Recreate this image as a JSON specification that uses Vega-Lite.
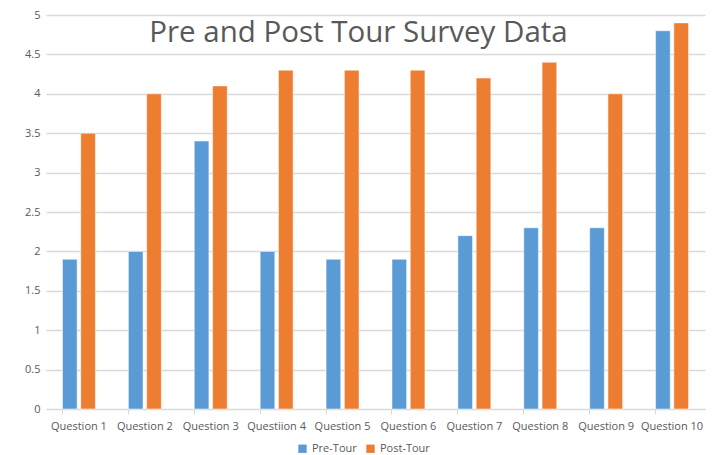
{
  "$schema": "https://vega.github.io/schema/vega-lite/v6.json",
  "width": 659,
  "height": 394,
  "autosize": "none",
  "padding": {"left": 46, "top": 15, "right": 8, "bottom": 46},
  "background": "white",
  "title": {
    "text": "Pre and Post Tour Survey Data",
    "font": "Open Sans",
    "fontSize": 29.5,
    "fontWeight": "normal",
    "color": "#595959",
    "anchor": "middle",
    "baseline": "alphabetic",
    "offset": 0,
    "dy": 62,
    "dx": -17
  },
  "config": {
    "view": {"stroke": null},
    "font": "Open Sans"
  },
  "data": {
    "values": [
      {"question": "Question 1", "series": "Pre-Tour", "value": 1.9},
      {"question": "Question 1", "series": "Post-Tour", "value": 3.5},
      {"question": "Question 2", "series": "Pre-Tour", "value": 2.0},
      {"question": "Question 2", "series": "Post-Tour", "value": 4.0},
      {"question": "Question 3", "series": "Pre-Tour", "value": 3.4},
      {"question": "Question 3", "series": "Post-Tour", "value": 4.1},
      {"question": "Questiion 4", "series": "Pre-Tour", "value": 2.0},
      {"question": "Questiion 4", "series": "Post-Tour", "value": 4.3},
      {"question": "Question 5", "series": "Pre-Tour", "value": 1.9},
      {"question": "Question 5", "series": "Post-Tour", "value": 4.3},
      {"question": "Question 6", "series": "Pre-Tour", "value": 1.9},
      {"question": "Question 6", "series": "Post-Tour", "value": 4.3},
      {"question": "Question 7", "series": "Pre-Tour", "value": 2.2},
      {"question": "Question 7", "series": "Post-Tour", "value": 4.2},
      {"question": "Question 8", "series": "Pre-Tour", "value": 2.3},
      {"question": "Question 8", "series": "Post-Tour", "value": 4.4},
      {"question": "Question 9", "series": "Pre-Tour", "value": 2.3},
      {"question": "Question 9", "series": "Post-Tour", "value": 4.0},
      {"question": "Question 10", "series": "Pre-Tour", "value": 4.8},
      {"question": "Question 10", "series": "Post-Tour", "value": 4.9}
    ]
  },
  "mark": {"type": "bar", "stroke": "white", "strokeWidth": 0.5},
  "encoding": {
    "x": {
      "field": "question",
      "type": "nominal",
      "sort": null,
      "scale": {"paddingInner": 0.5, "paddingOuter": 0.25},
      "axis": {
        "title": null,
        "labelAngle": 0,
        "labelFont": "Open Sans",
        "labelFontSize": 11,
        "labelColor": "#595959",
        "labelPadding": 6,
        "domainColor": "#D9D9D9",
        "tickColor": "#D9D9D9",
        "tickSize": 5,
        "bandPosition": 0,
        "grid": false
      }
    },
    "xOffset": {
      "field": "series",
      "type": "nominal",
      "sort": ["Pre-Tour", "Post-Tour"],
      "scale": {"paddingInner": 0.2}
    },
    "y": {
      "field": "value",
      "type": "quantitative",
      "scale": {"domain": [0, 5]},
      "axis": {
        "title": null,
        "values": [0, 0.5, 1, 1.5, 2, 2.5, 3, 3.5, 4, 4.5, 5],
        "format": "~g",
        "labelFont": "Open Sans",
        "labelFontSize": 11,
        "labelColor": "#595959",
        "labelPadding": 6,
        "domain": false,
        "ticks": false,
        "gridColor": "#D9D9D9",
        "gridWidth": 1.5
      }
    },
    "color": {
      "field": "series",
      "type": "nominal",
      "sort": ["Pre-Tour", "Post-Tour"],
      "scale": {"domain": ["Pre-Tour", "Post-Tour"], "range": ["#5B9BD5", "#ED7D31"]},
      "legend": {
        "title": null,
        "orient": "none",
        "legendX": 251,
        "legendY": 428,
        "direction": "horizontal",
        "symbolType": "square",
        "symbolSize": 70,
        "symbolStrokeWidth": 0,
        "labelFont": "Open Sans",
        "labelFontSize": 11,
        "labelColor": "#595959",
        "columnPadding": 8
      }
    }
  }
}
